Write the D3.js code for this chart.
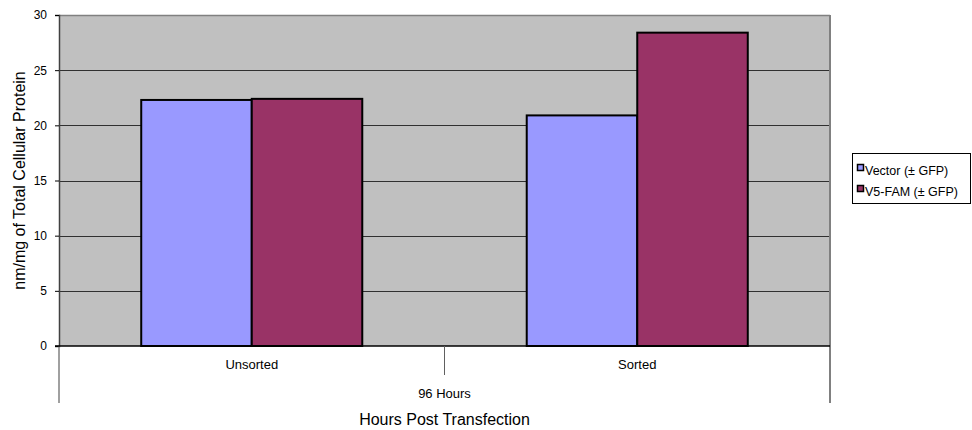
<!DOCTYPE html>
<html>
<head>
<meta charset="utf-8">
<script src="https://cdn.jsdelivr.net/npm/d3@7"></script>
<style>
  html, body { margin: 0; padding: 0; background: #ffffff; }
  svg { display: block; font-family: Arial, "Liberation Sans", sans-serif; }
</style>
</head>
<body>
<svg id="chart" width="972" height="430"></svg>
<script>
// Data
const categories = ["Unsorted", "Sorted"];
const groupLabel = "96 Hours";
const seriesNames = ["Vector (\u00b1 GFP)", "V5-FAM (\u00b1 GFP)"];
const vectorValues = [22.3, 20.9];
const v5famValues = [22.4, 28.4];
const yTicks = [0, 5, 10, 15, 20, 25, 30];
const seriesColors = ["#9999ff", "#993366"];

const seriesValues = [vectorValues, v5famValues];

const svg = d3.select("#chart");
const plot = { left: 59, top: 15, right: 830, bottom: 346 };

const x = d3.scaleBand()
  .domain(categories)
  .range([plot.left, plot.right])
  .paddingInner(0)
  .paddingOuter(0);

const xInner = d3.scaleBand()
  .domain(seriesNames)
  .range([0, x.bandwidth()])
  .paddingInner(0)
  .paddingOuter(0.744);

const y = d3.scaleLinear().domain([0, 30]).range([plot.bottom, plot.top]);

// Plot background
svg.append("rect")
  .attr("x", plot.left).attr("y", plot.top)
  .attr("width", plot.right - plot.left).attr("height", plot.bottom - plot.top)
  .attr("fill", "#c0c0c0");

// Gridlines
svg.append("g")
  .selectAll("line")
  .data(yTicks.filter(d => d > 0 && d < 30))
  .join("line")
  .attr("x1", plot.left).attr("x2", plot.right)
  .attr("y1", d => Math.round(y(d)) + 0.5).attr("y2", d => Math.round(y(d)) + 0.5)
  .attr("stroke", "#000000").attr("stroke-width", 1).attr("stroke-opacity", 0.75);

// Plot frame: top and right edges
svg.append("line")
  .attr("x1", plot.left).attr("x2", plot.right)
  .attr("y1", plot.top + 0.5).attr("y2", plot.top + 0.5)
  .attr("stroke", "#808080").attr("stroke-width", 1.5);
svg.append("line")
  .attr("x1", plot.right).attr("x2", plot.right)
  .attr("y1", plot.top).attr("y2", plot.bottom)
  .attr("stroke", "#808080").attr("stroke-width", 2);

// Bars
const groups = svg.append("g")
  .selectAll("g")
  .data(categories)
  .join("g")
  .attr("transform", d => `translate(${x(d)},0)`);

groups.selectAll("rect")
  .data((d, i) => seriesNames.map((s, j) => ({ series: s, j, value: seriesValues[j][i] })))
  .join("rect")
  .attr("x", d => xInner(d.series))
  .attr("y", d => y(d.value))
  .attr("width", xInner.bandwidth())
  .attr("height", d => y(0) - y(d.value))
  .attr("fill", d => seriesColors[d.j])
  .attr("stroke", "#000000")
  .attr("stroke-width", 2);

// Y axis
const yAxis = d3.axisLeft(y).tickValues(yTicks).tickSize(4).tickPadding(8);
const gy = svg.append("g")
  .attr("transform", `translate(${plot.left},0)`)
  .call(yAxis);
gy.select(".domain").attr("stroke", "#404040").attr("stroke-width", 1.5);
gy.selectAll(".tick line").attr("stroke", "#000000");
gy.selectAll(".tick text")
  .attr("font-size", 12)
  .attr("fill", "#000000")
  .attr("font-family", "Arial, 'Liberation Sans', sans-serif");

// Extended axis lines below the plot (category table)
svg.append("line")
  .attr("x1", plot.left).attr("x2", plot.left)
  .attr("y1", plot.bottom).attr("y2", 403)
  .attr("stroke", "#808080").attr("stroke-width", 1.5);
svg.append("line")
  .attr("x1", plot.right).attr("x2", plot.right)
  .attr("y1", plot.bottom).attr("y2", 403)
  .attr("stroke", "#808080").attr("stroke-width", 2);

// X baseline
svg.append("line")
  .attr("x1", plot.left - 4).attr("x2", plot.right)
  .attr("y1", plot.bottom).attr("y2", plot.bottom)
  .attr("stroke", "#000000").attr("stroke-width", 1.5);

// Separator between categories
svg.append("line")
  .attr("x1", x(categories[1])).attr("x2", x(categories[1]))
  .attr("y1", plot.bottom).attr("y2", 375)
  .attr("stroke", "#606060").attr("stroke-width", 1);

// Category labels
svg.append("g")
  .selectAll("text")
  .data(categories)
  .join("text")
  .attr("x", d => x(d) + x.bandwidth() / 2)
  .attr("y", 369)
  .attr("text-anchor", "middle")
  .attr("font-size", 13)
  .text(d => d);

// Group label
svg.append("text")
  .attr("x", (plot.left + plot.right) / 2)
  .attr("y", 398)
  .attr("text-anchor", "middle")
  .attr("font-size", 13)
  .text(groupLabel);

// Axis titles
svg.append("text")
  .attr("x", (plot.left + plot.right) / 2)
  .attr("y", 425)
  .attr("text-anchor", "middle")
  .attr("font-size", 16)
  .text("Hours Post Transfection");

svg.append("text")
  .attr("transform", `translate(25,${(plot.top + plot.bottom) / 2}) rotate(-90)`)
  .attr("text-anchor", "middle")
  .attr("font-size", 16)
  .text("nm/mg of Total Cellular Protein");

// Legend
const legend = svg.append("g").attr("transform", "translate(852,153)");
legend.append("rect")
  .attr("x", 0.5).attr("y", 0.5)
  .attr("width", 118).attr("height", 50)
  .attr("fill", "#ffffff")
  .attr("stroke", "#000000").attr("stroke-width", 1);

const items = legend.selectAll("g.item")
  .data(seriesNames)
  .join("g")
  .attr("class", "item")
  .attr("transform", (d, i) => `translate(5,${22 + i * 21})`);

items.append("rect")
  .attr("x", 0.5).attr("y", -10.5)
  .attr("width", 6).attr("height", 6)
  .attr("fill", (d, i) => seriesColors[i])
  .attr("stroke", "#000000").attr("stroke-width", 1.5);

items.append("text")
  .attr("x", 8)
  .attr("y", 0)
  .attr("font-size", 12.5)
  .text(d => d);
</script>
</body>
</html>
